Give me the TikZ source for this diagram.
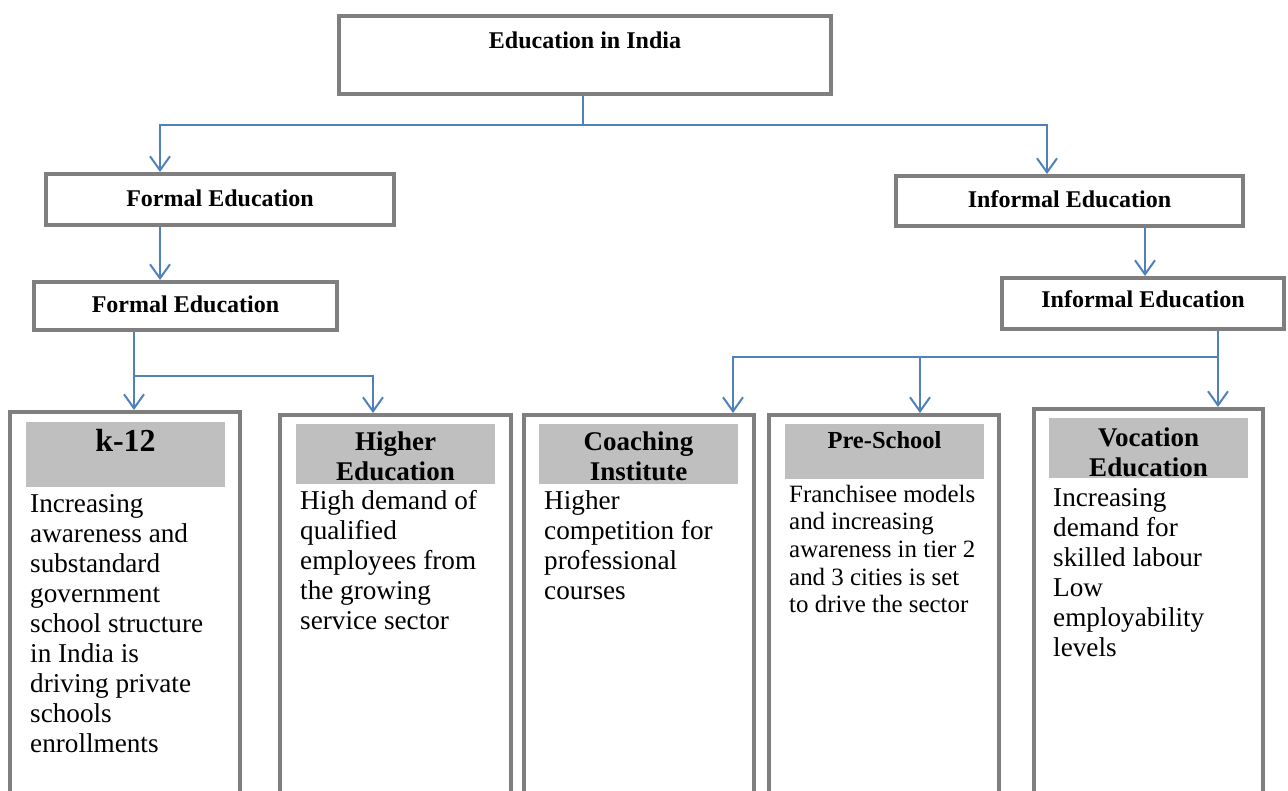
\documentclass[tikz,border=0pt]{standalone}
\usepackage{fontspec}
\setmainfont{Liberation Serif}
\usetikzlibrary{arrows.meta}
\definecolor{boxgray}{HTML}{7F7F7F}
\definecolor{hdrgray}{HTML}{BFBFBF}
\definecolor{arrblue}{HTML}{4F81BD}
\begin{document}
\begin{tikzpicture}[x=1pt,y=-1pt,
  box/.style={draw=boxgray,line width=4pt,fill=white,inner sep=0pt,rectangle},
  hdr/.style={fill=hdrgray,inner sep=0pt,rectangle},
  conn/.style={draw=arrblue,line width=2pt},
  arr/.style={conn,-{Straight Barb[length=14pt,width=20pt]}},
  ttl/.style={font=\bfseries\fontsize{24}{28}\selectfont,inner sep=0pt,anchor=base},
  head/.style={font=\bfseries\fontsize{27}{30}\selectfont,inner sep=0pt,align=center,anchor=base},
  body/.style={font=\fontsize{27.2}{30}\selectfont,inner sep=0pt,align=left,anchor=base west}]
\useasboundingbox[fill=white] (0,0) rectangle (1288,791);

% top level
\node[box,minimum width=492pt,minimum height=78pt] (top) at (585,55) {};
\node[ttl] (topt) at (585,48.5) {Education in India};

% second level
\node[box,minimum width=348pt,minimum height=51pt] (f1) at (220,199.5) {};
\node[ttl] (f1t) at (220,206.5) {Formal Education};
\node[box,minimum width=347pt,minimum height=50pt] (i1) at (1069.5,201) {};
\node[ttl] (i1t) at (1069.5,207.5) {Informal Education};

% third level
\node[box,minimum width=303pt,minimum height=48pt] (f2) at (185.5,306) {};
\node[ttl] (f2t) at (185.5,312.5) {Formal Education};
\node[box,minimum width=282pt,minimum height=51pt] (i2) at (1143,303.5) {};
\node[ttl] (i2t) at (1143,307.5) {Informal Education};

% bottom boxes
\node[box,minimum width=230pt,minimum height=450pt] (k12) at (125,637) {};
\node[box,minimum width=231pt,minimum height=450pt] (hi) at (395.5,640) {};
\node[box,minimum width=230pt,minimum height=450pt] (co) at (639,640) {};
\node[box,minimum width=230pt,minimum height=450pt] (pre) at (884,640) {};
\node[box,minimum width=229pt,minimum height=450pt] (voc) at (1148.5,634) {};

% header bands
\node[hdr,minimum width=199pt,minimum height=65pt] (k12h) at (125.5,454.5) {};
\node[hdr,minimum width=199pt,minimum height=60pt] (hih) at (395.5,454) {};
\node[hdr,minimum width=199pt,minimum height=60pt] (coh) at (638.5,454) {};
\node[hdr,minimum width=199pt,minimum height=55pt] (preh) at (884.5,451.5) {};
\node[hdr,minimum width=199pt,minimum height=60pt] (voch) at (1148.5,448) {};

% header texts (base anchor = baseline of the last line)
\node[head,font=\bfseries\fontsize{32}{34}\selectfont] (k12t) at (125.5,451) {k-12};
\node[head] (hit) at (395.5,480) {Higher\\Education};
\node[head] (cot) at (638.5,480) {Coaching\\Institute};
\node[head,font=\bfseries\fontsize{24.5}{28}\selectfont] (pret) at (884.5,448) {Pre-School};
\node[head] (voct) at (1148.5,476) {Vocation\\Education};

% body texts (base anchor = baseline of the last line)
\node[body] (k12b) at (30,752) {Increasing\\awareness and\\substandard\\government\\school structure\\in India is\\driving private\\schools\\enrollments};
\node[body] (hib) at (300,629) {High demand of\\qualified\\employees from\\the growing\\service sector};
\node[body] (cob) at (544,599) {Higher\\competition for\\professional\\courses};
\node[body,font=\fontsize{24.9}{27.7}\selectfont] (preb) at (789,612.8) {Franchisee models\\and increasing\\awareness in tier 2\\and 3 cities is set\\to drive the sector};
\node[body] (vocb) at (1053,656) {Increasing\\demand for\\skilled labour\\Low\\employability\\levels};

% connectors
\coordinate (h0) at (0,125);
\coordinate (h2) at (0,376);
\coordinate (h3) at (0,357);
\draw[conn] ([xshift=-2pt]top.south) -- ([xshift=-2pt]top.south |- h0);
\draw[arr] ([xshift=-2pt]top.south |- h0) -| ([xshift=-60pt]f1.north);
\draw[arr] ([xshift=-2pt]top.south |- h0) -| ([xshift=-22.5pt]i1.north);
\draw[arr] ([xshift=-60pt]f1.south) -- ([xshift=-25.5pt]f2.north);
\draw[arr] ([xshift=75.5pt]i1.south) -- ([xshift=2pt]i2.north);
\draw[arr] ([xshift=-51.5pt]f2.south) -- ([xshift=9pt]k12.north);
\draw[arr] ([xshift=-51.5pt]f2.south |- h2) -| ([xshift=-22.5pt]hi.north);
\draw[arr] ([xshift=75pt]i2.south) -- ([xshift=69.5pt]voc.north);
\draw[arr] ([xshift=75pt]i2.south |- h3) -| ([xshift=36pt]pre.north);
\draw[arr] ([xshift=75pt]i2.south |- h3) -| ([xshift=94pt]co.north);
\end{tikzpicture}
\end{document}
